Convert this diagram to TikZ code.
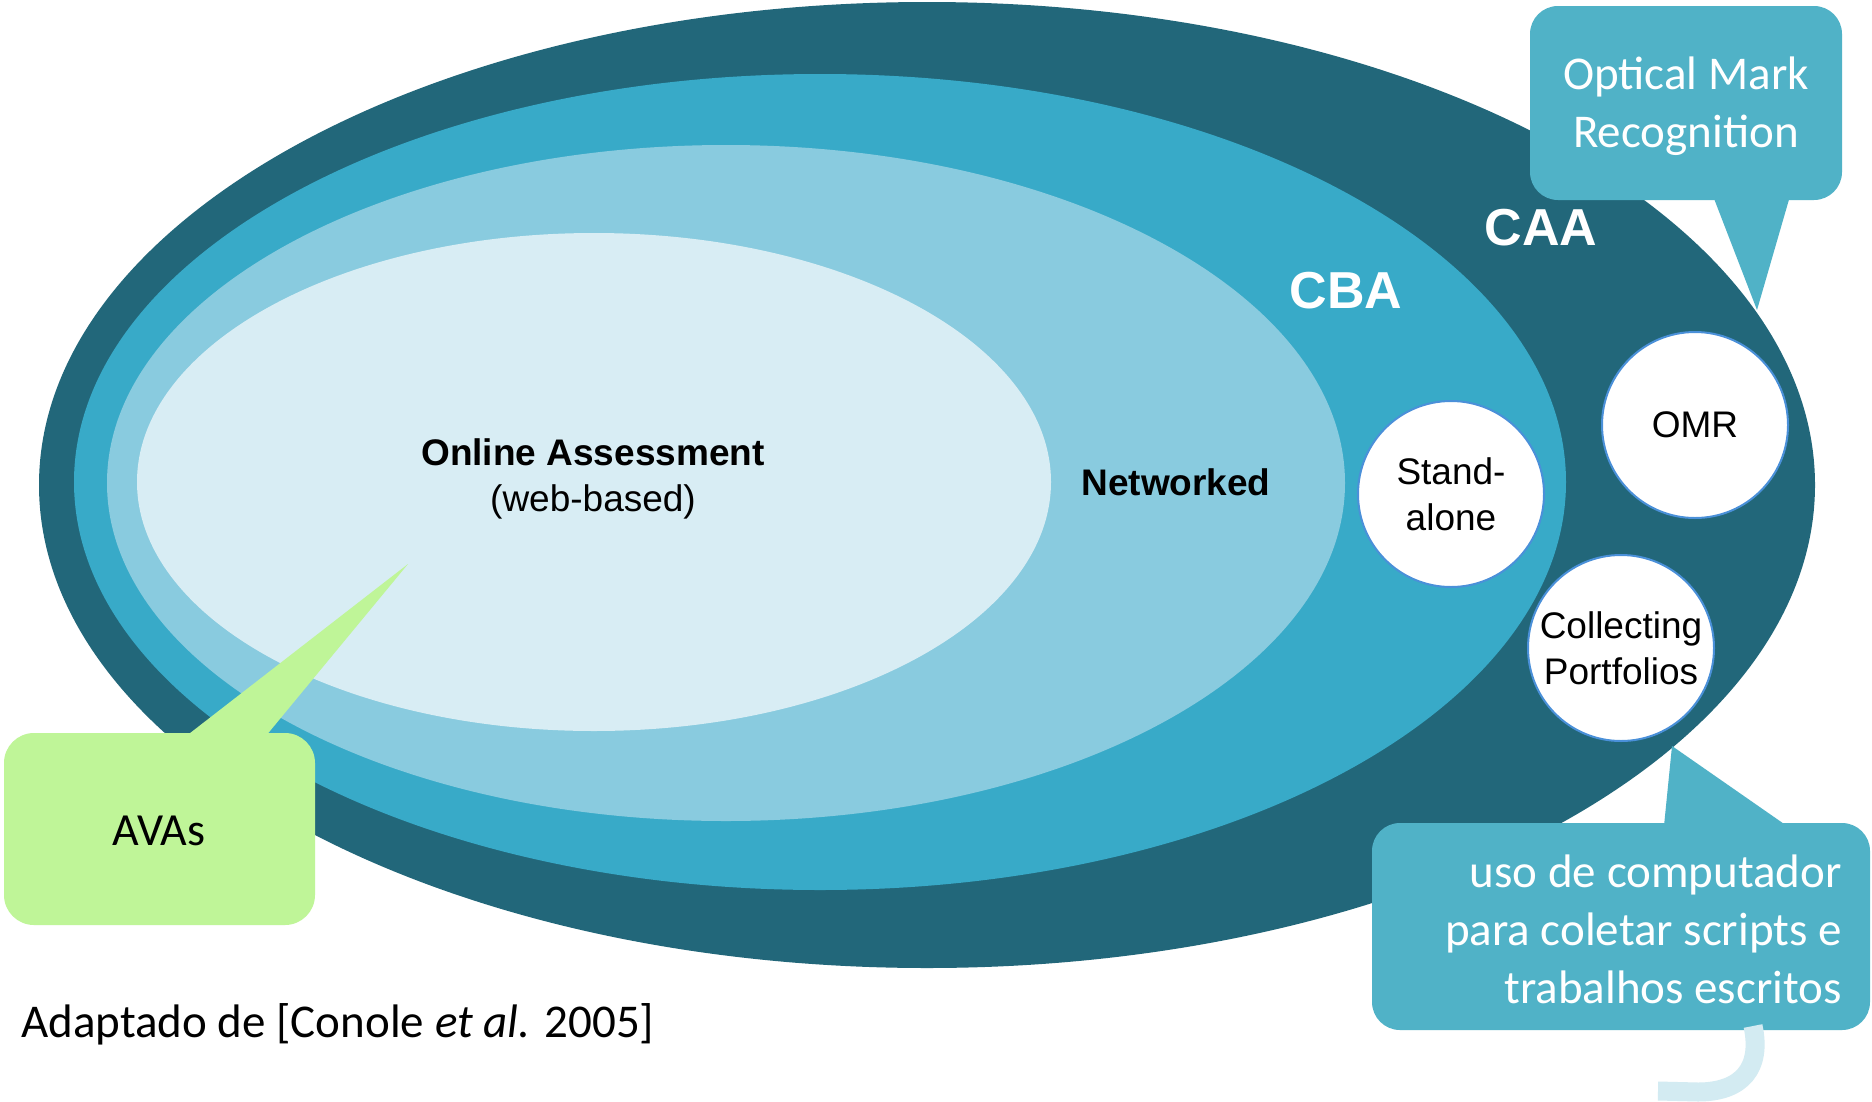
\documentclass[tikz,border=0pt]{standalone}
\usepackage{fontspec}
\newfontfamily\arialf{Liberation Sans}
\newfontfamily\calib{Carlito}
\definecolor{caa}{HTML}{22677A}
\definecolor{cba}{HTML}{38AAC8}
\definecolor{netw}{HTML}{89CBDF}
\definecolor{onl}{HTML}{D8EDF4}
\definecolor{callc}{HTML}{50B2C7}
\definecolor{avac}{HTML}{BFF598}
\definecolor{ringc}{HTML}{4A90D9}
\definecolor{faint}{HTML}{D3EBF2}
\tikzset{
  bubble/.style={circle, fill=white, draw=ringc, line width=2pt, minimum size=186pt, inner sep=0pt, align=center, font=\arialf\fontsize{37}{46}\selectfont},
  ovtext/.style={align=center, inner sep=0pt, font=\arialf\fontsize{37}{46}\selectfont},
  bigw/.style={inner sep=0pt, text=white, font=\arialf\bfseries\fontsize{52}{60}\selectfont},
  calltext/.style={inner sep=0pt, text=white, font=\calib\fontsize{47}{58}\selectfont}
}
\begin{document}
\begin{tikzpicture}[x=1pt,y=-1pt]
\useasboundingbox (0,0) rectangle (1872,1101);
\fill[white] (0,0) rectangle (1872,1101);
% nested ellipses
\fill[caa] (927,485) ellipse [x radius=888, y radius=483];
\fill[cba] (820,482) ellipse [x radius=746, y radius=408];
\fill[netw] (726,483) ellipse [x radius=619, y radius=338];
\fill[onl] (594,482) ellipse [x radius=457, y radius=249];
% labels
\node[ovtext, align=center] (online) at (593,479) {\bfseries Online Assessment\\(web-based)};
\node[ovtext] (networked) at (1176,482) {\bfseries Networked};
\node[bigw] (cba) at (1346,291) {CBA};
\node[bigw] (caa) at (1541,228) {CAA};
% circles
\node[bubble] (stand) at (1451,494) {Stand-\\alone};
\node[bubble] (omr) at (1695,425) {OMR};
\node[bubble] (coll) at (1621,648) {Collecting\\Portfolios};
% callout top right
\fill[callc, rounded corners=28pt] (1530,6) rectangle (1842,200);
\fill[callc] (1713,196) -- (1790,196) -- (1757,310) -- cycle;
\node[calltext, align=center] (omrcall) at (1686,106) {Optical Mark\\Recognition};
% callout bottom right
\fill[callc, rounded corners=28pt] (1372,823) rectangle (1870,1030);
\fill[callc] (1664,826) -- (1672,746) -- (1787,826) -- cycle;
\node[calltext, align=right, anchor=east] (collcall) at (1842,929) {uso de computador\\para coletar scripts e\\trabalhos escritos};
% faint arc
\draw[faint, line width=19pt] (1753,1026) .. controls (1762,1068) and (1742,1092) .. (1698,1092) -- (1658,1091);
% AVAs callout
\fill[avac, rounded corners=30pt] (4,733) rectangle (315,925);
\fill[avac] (185,737) -- (408,564) -- (265,737) -- cycle;
\node[inner sep=0pt, font=\calib\fontsize{46}{54}\selectfont] (avas) at (159,831) {AVAs};
% source
\node[inner sep=0pt, anchor=west, font=\calib\fontsize{47}{56}\selectfont] (src) at (21,1024) {Adaptado de [Conole \textit{et al.} 2005]};
\end{tikzpicture}
\end{document}
